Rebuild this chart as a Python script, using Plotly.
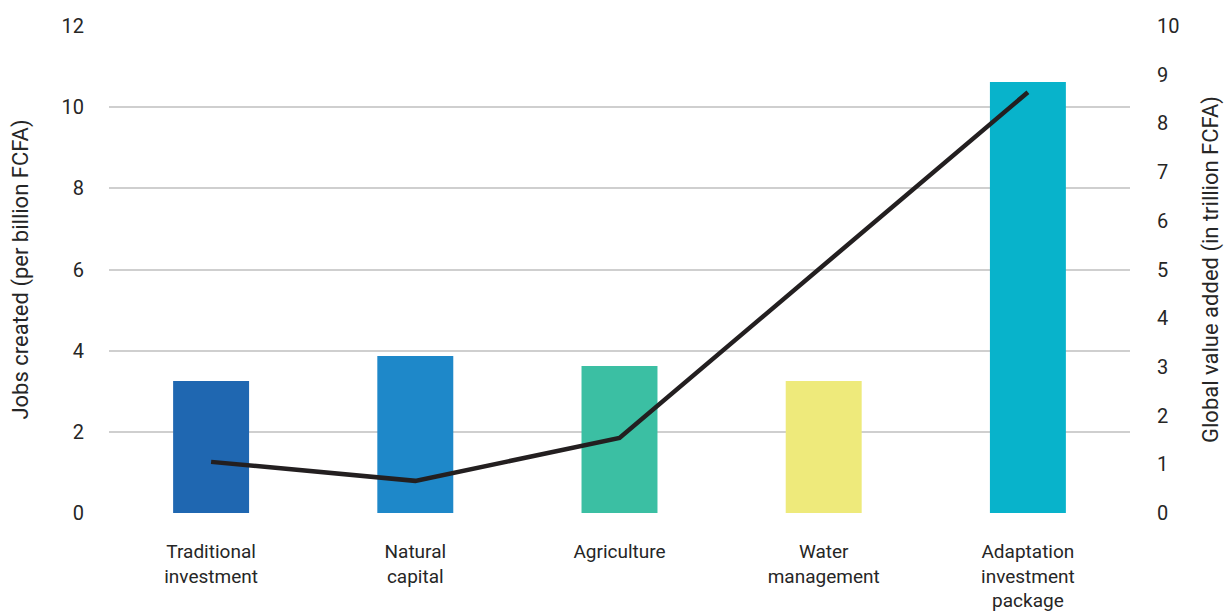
import plotly.graph_objects as go

categories = ["Traditional<br>investment", "Natural<br>capital", "Agriculture",
              "Water<br>management", "Adaptation<br>investment<br>package"]
jobs_created = [3.25, 3.87, 3.62, 3.25, 10.62]
value_added = [1.05, 0.66, 1.54, 5.10, 8.64]
bar_colors = ["#1f67b1", "#1e88c9", "#3bbfa3", "#eeea7b", "#08b3cb"]

left_ticks = [0, 2, 4, 6, 8, 10, 12]
right_ticks = list(range(0, 11))

font_family = "Roboto, Arial, sans-serif"
text_color = "#262626"

fig = go.Figure()
fig.add_trace(go.Bar(
    x=categories, y=jobs_created, marker=dict(color=bar_colors, line=dict(width=0)),
    yaxis="y", showlegend=False, hoverinfo="x+y",
))
fig.add_trace(go.Scatter(
    x=categories, y=value_added, mode="lines", yaxis="y2",
    line=dict(color="#231f20", width=4.5), showlegend=False,
))

fig.update_layout(
    width=1224, height=613,
    margin=dict(l=109, r=94, t=26, b=100),
    paper_bgcolor="white", plot_bgcolor="white",
    font=dict(family=font_family, size=20, color=text_color),
    bargap=0.628,
    xaxis=dict(
        showgrid=False, showline=False, zeroline=False, ticks="",
        tickfont=dict(size=19), ticklabelstandoff=25, automargin=False,
    ),
    yaxis=dict(
        range=[0, 12], tickvals=left_ticks, showgrid=True, gridcolor="#cfcfcf",
        gridwidth=1.5, zeroline=False, showline=False, ticks="",
        ticklabelstandoff=24, automargin=False,
        title=dict(text="Jobs created (per billion FCFA)", font=dict(size=22), standoff=26),
    ),
    yaxis2=dict(
        range=[0, 10], tickvals=right_ticks, overlaying="y", side="right",
        showgrid=False, zeroline=False, showline=False, ticks="",
        ticklabelstandoff=26, automargin=False,
        title=dict(text="Global value added (in trillion FCFA)", font=dict(size=22), standoff=24),
    ),
)

fig.write_html("out.html")
